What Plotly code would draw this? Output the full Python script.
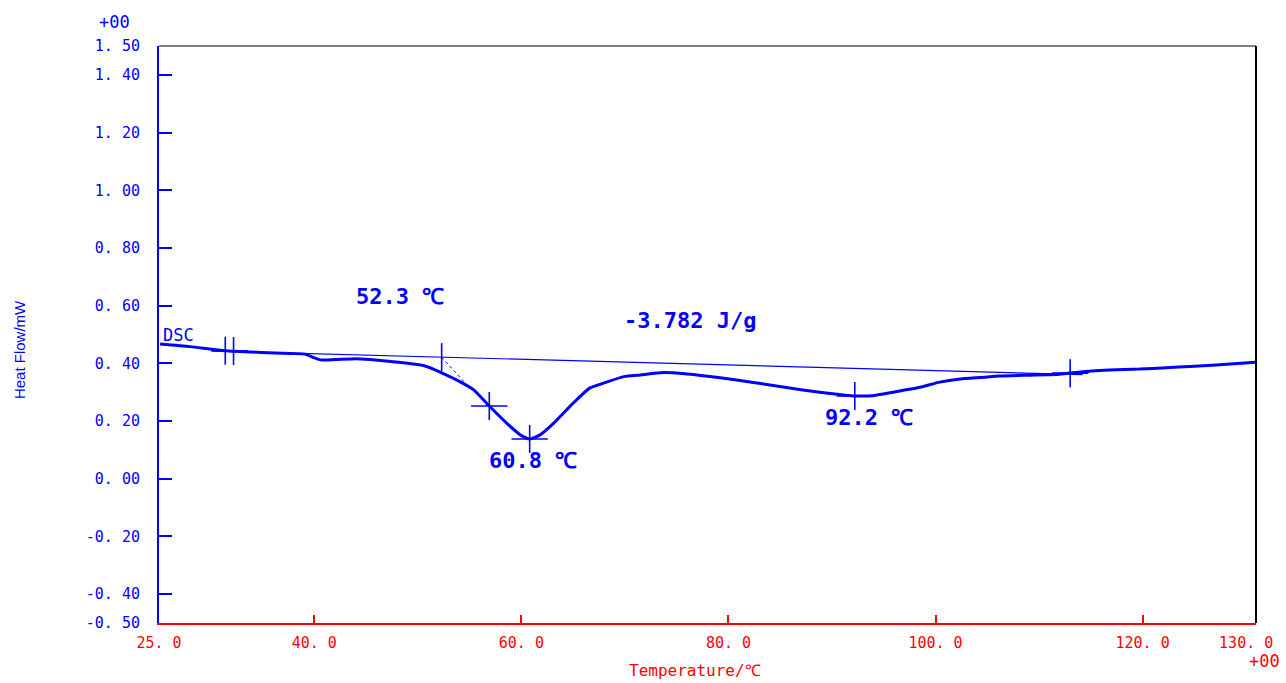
import numpy as np
import plotly.graph_objects as go

# DSC heat-flow curve (temperature in degC, heat flow in mW)
temp = [25.1, 28.0, 31.4, 34.8, 37.7, 39.1, 39.8, 40.6, 42.0, 44.0, 45.4, 46.9,
        48.8, 50.7, 52.2, 54.1, 55.4, 56.9, 58.6, 59.9, 60.8, 61.8, 63.1, 65.0,
        66.6, 68.3, 69.9, 71.5, 73.7, 76.0, 79.2, 82.4, 85.6, 88.8, 90.5, 92.2,
        93.9, 95.9, 98.5, 100.4, 102.4, 104.3, 106.2, 109.1, 112.0, 114.2, 116.8,
        119.7, 122.3, 124.6, 127.1, 130.9]
heat_flow = [0.467, 0.458, 0.444, 0.438, 0.434, 0.432, 0.422, 0.412, 0.413, 0.416,
             0.413, 0.408, 0.401, 0.391, 0.369, 0.336, 0.308, 0.252, 0.192, 0.152,
             0.138, 0.152, 0.192, 0.262, 0.314, 0.336, 0.354, 0.360, 0.368, 0.363,
             0.350, 0.334, 0.316, 0.300, 0.293, 0.287, 0.288, 0.300, 0.317, 0.335,
             0.346, 0.351, 0.356, 0.359, 0.362, 0.371, 0.377, 0.380, 0.385, 0.389,
             0.394, 0.404]

# integration baseline
baseline_t = [30.2, 114.2]
baseline_hf = [0.443, 0.361]

# analysis results
onset_t = 52.3
peak_t = [60.8, 92.2]
inflection_t = 56.9
tangent_end_t = 54.6
range_marks_t = [31.4, 32.2, 113.0]
enthalpy = -3.782

# axis ticks
x_tickvals = [25, 40, 60, 80, 100, 120, 130]
x_ticktext = ["25. 0", "40. 0", "60. 0", "80. 0", "100. 0", "120. 0", "130. 0"]
x_minor = [40, 60, 80, 100, 120]
y_tickvals = [-0.5, -0.4, -0.2, 0.0, 0.2, 0.4, 0.6, 0.8, 1.0, 1.2, 1.4, 1.5]
y_ticktext = ["-0. 50", "-0. 40", "-0. 20", "0. 00", "0. 20", "0. 40", "0. 60",
              "0. 80", "1. 00", "1. 20", "1. 40", "1. 50"]

BLUE = "#0000ff"
RED = "#ff0000"
MONO = "DejaVu Sans Mono"


def curve_at(t):
    return float(np.interp(t, temp, heat_flow))


def base_at(t):
    return float(np.interp(t, baseline_t, baseline_hf))


fig = go.Figure()

fig.add_trace(go.Scatter(x=baseline_t, y=baseline_hf, mode="lines",
                         line=dict(color=BLUE, width=1.2), hoverinfo="skip"))

onset_y = base_at(onset_t)
fig.add_trace(go.Scatter(x=[onset_t, tangent_end_t],
                         y=[onset_y, curve_at(tangent_end_t) + 0.005],
                         mode="lines", xaxis="x2",
                         line=dict(color=BLUE, width=1, dash="dot"), hoverinfo="skip"))

fig.add_trace(go.Scatter(x=temp, y=heat_flow, mode="lines",
                         line=dict(color=BLUE, width=3, shape="spline", smoothing=0.5)))


def add_marks(xs, ys, symbol, size):
    fig.add_trace(go.Scatter(x=xs, y=ys, mode="markers", hoverinfo="skip",
                             marker=dict(symbol=symbol, size=size, color=BLUE,
                                         line=dict(color=BLUE, width=1.6))))


# vertical ticks
vx = range_marks_t + [onset_t, inflection_t] + peak_t
vy = ([curve_at(t) for t in range_marks_t] + [onset_y, curve_at(inflection_t)]
      + [curve_at(t) for t in peak_t])
add_marks(vx, vy, "line-ns-open", 20)
# horizontal ticks
hx = [31.8, inflection_t] + peak_t + [113.0]
hy = [curve_at(31.8), curve_at(inflection_t)] + [curve_at(t) for t in peak_t] + [curve_at(113.0)]
add_marks(hx, hy, "line-ew-open", 26)

ann_font = dict(family=MONO, size=22, color=BLUE)
fig.add_annotation(x=48.3, y=0.633, text="<b>%.1f ℃</b>" % onset_t, showarrow=False, font=ann_font)
fig.add_annotation(x=76.3, y=0.547, text="<b>%.3f J/g</b>" % enthalpy, showarrow=False, font=ann_font)
fig.add_annotation(x=61.1, y=0.065, text="<b>%.1f ℃</b>" % peak_t[0], showarrow=False, font=ann_font)
fig.add_annotation(x=93.6, y=0.214, text="<b>%.1f ℃</b>" % peak_t[1], showarrow=False, font=ann_font)
fig.add_annotation(x=25.15, y=0.497, text="DSC", xanchor="left", yanchor="middle",
                   showarrow=False, font=dict(family=MONO, size=17, color=BLUE))

# exponent labels and axis titles
fig.add_annotation(xref="paper", yref="paper", x=-0.041, y=1.0416, text="+00",
                   xanchor="center", yanchor="middle", showarrow=False,
                   font=dict(family=MONO, size=17, color=BLUE))
fig.add_annotation(xref="paper", yref="paper", x=1.0082, y=-0.0659, text="+00",
                   xanchor="center", yanchor="middle", showarrow=False,
                   font=dict(family=MONO, size=17, color=RED))
fig.add_annotation(xref="paper", yref="paper", x=-0.1276, y=0.473, text="Heat Flow/mW",
                   textangle=-90, xanchor="center", yanchor="middle", showarrow=False,
                   font=dict(family="Liberation Sans", size=15, color=BLUE))
fig.add_annotation(xref="paper", yref="paper", x=0.4886, y=-0.083, text="Temperature/℃",
                   xanchor="center", yanchor="middle", showarrow=False,
                   font=dict(family=MONO, size=16, color=RED))

# top and right frame
fig.add_shape(type="line", xref="paper", yref="paper", x0=0, x1=1, y0=1, y1=1,
              line=dict(color="black", width=1.2))
fig.add_shape(type="line", xref="paper", yref="paper", x0=1, x1=1, y0=0, y1=1,
              line=dict(color="black", width=2))

xr = [25, 130.95]
fig.update_layout(
    width=1286, height=683,
    margin=dict(l=159, r=30, t=46, b=60),
    plot_bgcolor="white", paper_bgcolor="white",
    showlegend=False,
    xaxis=dict(range=xr, showgrid=False, zeroline=False, showline=True,
               linecolor=RED, linewidth=1.5, tickmode="array",
               tickvals=x_tickvals, ticktext=x_ticktext, ticks="", ticklabelstandoff=5,
               tickfont=dict(family=MONO, size=15, color=RED)),
    xaxis2=dict(range=xr, overlaying="x", side="bottom", showgrid=False,
                zeroline=False, showline=False, tickmode="array", tickvals=x_minor,
                ticks="inside", ticklen=8, tickwidth=1.5, tickcolor=RED,
                showticklabels=False),
    yaxis=dict(range=[-0.5, 1.5], showgrid=False, zeroline=False, showline=True,
               linecolor=BLUE, linewidth=2, tickmode="array", tickvals=y_tickvals,
               ticktext=y_ticktext, ticks="inside", ticklen=13, tickwidth=1.5,
               tickcolor=BLUE, ticklabelstandoff=14,
               tickfont=dict(family=MONO, size=15, color=BLUE)),
)

fig.write_html("out.html")
